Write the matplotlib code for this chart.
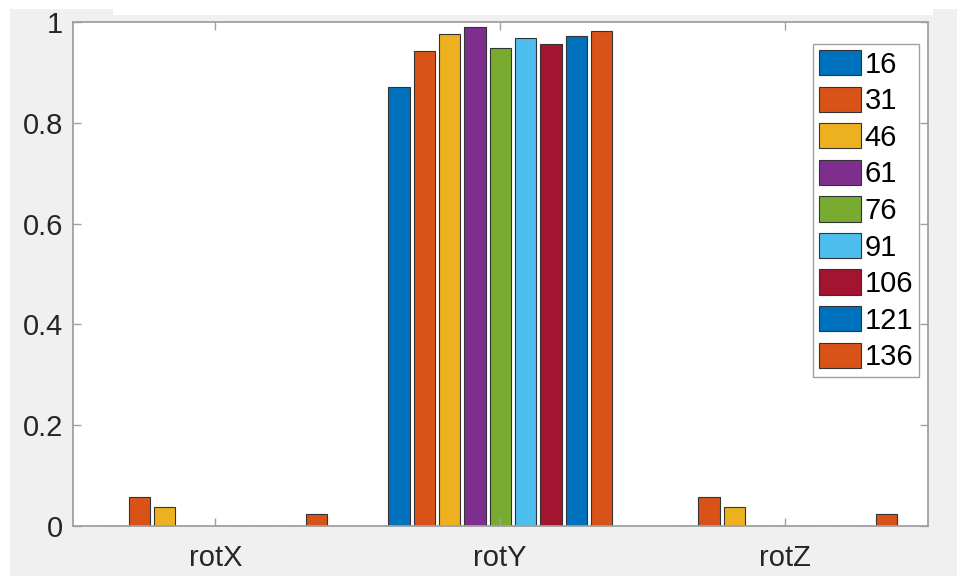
import numpy as np
import matplotlib
matplotlib.use('Agg')
import matplotlib.pyplot as plt
from matplotlib.patches import Rectangle

plt.rcParams['font.family'] = ['Liberation Sans', 'DejaVu Sans']

categories = ['rotX', 'rotY', 'rotZ']
series_labels = ['16', '31', '46', '61', '76', '91', '106', '121', '136']
rotX = [0.0, 0.057, 0.037, 0.0, 0.0, 0.0, 0.0, 0.0, 0.024]
rotY = [0.872, 0.943, 0.976, 0.990, 0.948, 0.968, 0.956, 0.973, 0.983]
rotZ = [0.0, 0.057, 0.037, 0.0, 0.0, 0.0, 0.0, 0.0, 0.024]
yticks = [0, 0.2, 0.4, 0.6, 0.8, 1]
ytick_labels = ['0', '0.2', '0.4', '0.6', '0.8', '1']

colors = ['#0072BD', '#D95319', '#EDB120', '#7E2F8E', '#77AC30',
          '#4DBEEE', '#A2142F', '#0072BD', '#D95319']

W, H = 957, 576
fig = plt.figure(figsize=(W / 100, H / 100), dpi=100, facecolor='white')

# grey window background like the MATLAB figure screenshot
fig.patches.append(Rectangle((10 / W, 0), 1, (H - 9) / H, transform=fig.transFigure,
                             facecolor='#f0f0f0', edgecolor='none', zorder=-2))
fig.patches.append(Rectangle((113 / W, (H - 15) / H), (933 - 113) / W, 15 / H,
                             transform=fig.transFigure, facecolor='white',
                             edgecolor='none', zorder=-1))

ax = fig.add_axes([73 / W, 50 / H, 854.5 / W, 504 / H])
ax.set_facecolor('white')

data = np.array([rotX, rotY, rotZ])
x = np.arange(1, len(categories) + 1)
pitch = 0.089
width = 0.075
n = len(series_labels)
for i in range(n):
    offset = (i - (n - 1) / 2) * pitch
    ax.bar(x + offset, data[:, i], width=width, color=colors[i],
           edgecolor='#333333', linewidth=0.8, label=series_labels[i])

ax.set_xlim(0.5, 3.5)
ax.set_ylim(0, 1)
ax.set_xticks(x)
ax.set_xticklabels(categories)
ax.set_yticks(yticks)
ax.set_yticklabels(ytick_labels)

for sp in ax.spines.values():
    sp.set_color('#a0a0a0')
    sp.set_linewidth(1.3)

ax.tick_params(axis='both', direction='in', length=6, width=1, color='#a0a0a0',
               labelsize=21, labelcolor='#262626', top=True, right=True)
ax.tick_params(axis='y', pad=7)
ax.tick_params(axis='x', pad=13)

leg = ax.legend(loc='upper right', bbox_to_anchor=(0.990, 0.956), borderaxespad=0,
                fontsize=21, handlelength=1.45, handleheight=0.96, handletextpad=0.12,
                labelspacing=0.27, borderpad=0.2, frameon=True, fancybox=False,
                framealpha=1, edgecolor='#a0a0a0')
leg.get_frame().set_linewidth(1.0)
for t in leg.get_texts():
    t.set_color('#000000')

fig.savefig('out.png', dpi=100, facecolor=fig.get_facecolor())
